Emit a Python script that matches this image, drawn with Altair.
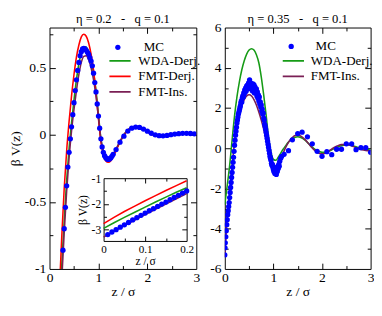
import altair as alt
import pandas as pd

FONT = "Liberation Serif"
BLUE = "#0000ff"
GREEN = "#169b16"
RED = "#ff0000"
PURPLE = "#7a1f55"

# ---------------- left panel: eta = 0.2 ----------------
L_SERIES = ["WDA-Derj.", "FMT-Derj.", "FMT-Ins."]
L_COLORS = [GREEN, RED, PURPLE]

L_LINE_Z = [0.20, 0.25, 0.30, 0.35, 0.40, 0.45, 0.50, 0.55, 0.60, 0.65,
            0.70, 0.75, 0.80, 0.85, 0.90, 0.95, 1.00, 1.05, 1.10, 1.15,
            1.20, 1.25, 1.30, 1.35, 1.40, 1.45, 1.50, 1.55, 1.60, 1.65,
            1.70, 1.75, 1.80, 1.85, 1.90, 1.95, 2.00, 2.05, 2.10, 2.15,
            2.20, 2.25, 2.30, 2.35, 2.40, 2.45, 2.50, 2.55, 2.60, 2.65,
            2.70, 2.75, 2.80, 2.85, 2.90, 2.95, 3.00]
L_WDA = [-1.30, -0.97, -0.64, -0.34, -0.10, 0.09, 0.26, 0.41, 0.53, 0.61,
         0.655, 0.655, 0.615, 0.55, 0.46, 0.33, 0.15, -0.03, -0.13, -0.175,
         -0.188, -0.18, -0.15, -0.115, -0.08, -0.045, -0.012, 0.015, 0.035, 0.05,
         0.058, 0.062, 0.062, 0.058, 0.05, 0.039, 0.027, 0.015, 0.005, -0.002,
         -0.007, -0.009, -0.009, -0.007, -0.004, 0.0, 0.004, 0.007, 0.009, 0.011,
         0.011, 0.011, 0.010, 0.009, 0.008, 0.006, 0.005]
L_FMT_D = [-1.17, -0.76, -0.40, -0.12, 0.10, 0.29, 0.45, 0.58, 0.67, 0.73,
           0.75, 0.735, 0.685, 0.60, 0.48, 0.31, 0.12, -0.05, -0.15, -0.195,
           -0.205, -0.195, -0.165, -0.125, -0.085, -0.048, -0.014, 0.014, 0.035, 0.05,
           0.058, 0.061, 0.060, 0.055, 0.046, 0.035, 0.023, 0.012, 0.002, -0.005,
           -0.009, -0.011, -0.011, -0.009, -0.006, -0.002, 0.002, 0.006, 0.009, 0.010,
           0.011, 0.011, 0.010, 0.009, 0.007, 0.006, 0.005]
L_FMT_I = [-1.45, -1.08, -0.73, -0.42, -0.17, 0.03, 0.19, 0.33, 0.45, 0.54,
           0.585, 0.59, 0.56, 0.50, 0.41, 0.29, 0.13, -0.03, -0.125, -0.17,
           -0.18, -0.172, -0.146, -0.112, -0.077, -0.043, -0.012, 0.013, 0.032, 0.046,
           0.054, 0.057, 0.057, 0.053, 0.045, 0.035, 0.024, 0.013, 0.004, -0.003,
           -0.007, -0.009, -0.009, -0.007, -0.004, 0.0, 0.004, 0.007, 0.009, 0.010,
           0.011, 0.011, 0.010, 0.009, 0.008, 0.006, 0.005]

L_MC_Z = [0.275, 0.300, 0.325, 0.350, 0.375, 0.400, 0.425, 0.450, 0.475, 0.500,
          0.525, 0.550, 0.575, 0.600, 0.625, 0.650, 0.675, 0.700, 0.725, 0.750,
          0.775, 0.800, 0.825, 0.850, 0.875, 0.900, 0.925, 0.950, 0.975, 1.000,
          1.025, 1.050, 1.075, 1.100, 1.125, 1.150, 1.175, 1.200, 1.225, 1.250,
          1.275, 1.300, 1.36, 1.44, 1.52, 1.60, 1.68, 1.76, 1.84, 1.92,
          2.00, 2.08, 2.16, 2.24, 2.32, 2.40, 2.48, 2.56, 2.64, 2.72,
          2.80, 2.88, 2.96]
L_MC_V = [-0.86, -0.70, -0.54, -0.38, -0.24, -0.13, -0.03, 0.06, 0.15, 0.24,
          0.33, 0.41, 0.48, 0.54, 0.59, 0.62, 0.64, 0.645, 0.64, 0.63,
          0.615, 0.60, 0.575, 0.55, 0.515, 0.46, 0.39, 0.32, 0.23, 0.14,
          0.05, -0.03, -0.09, -0.13, -0.155, -0.17, -0.18, -0.183, -0.18, -0.172,
          -0.16, -0.145, -0.11, -0.055, -0.01, 0.028, 0.05, 0.058, 0.055, 0.043,
          0.027, 0.012, 0.0, -0.006, -0.007, -0.004, 0.001, 0.006, 0.009, 0.011,
          0.011, 0.010, 0.008]

# inset (near-wall region)
IN_LINE_Z = [0.0, 0.025, 0.05, 0.075, 0.10, 0.125, 0.15, 0.175, 0.20]
IN_WDA = [-2.96, -2.74, -2.53, -2.33, -2.13, -1.93, -1.74, -1.55, -1.37]
IN_FMT_D = [-2.77, -2.53, -2.30, -2.09, -1.88, -1.68, -1.48, -1.29, -1.10]
IN_FMT_I = [-3.30, -3.07, -2.85, -2.63, -2.42, -2.21, -2.01, -1.80, -1.60]
IN_MC_Z = [0.01, 0.02, 0.03, 0.04, 0.05, 0.06, 0.07, 0.08, 0.09, 0.10,
           0.11, 0.12, 0.13, 0.14, 0.15, 0.16, 0.17, 0.18, 0.19, 0.20]
IN_MC_V = [-3.20, -3.10, -3.01, -2.91, -2.82, -2.73, -2.63, -2.54, -2.45, -2.36,
           -2.27, -2.19, -2.10, -2.01, -1.93, -1.84, -1.75, -1.67, -1.58, -1.50]

# ---------------- right panel: eta = 0.35 ----------------
R_SERIES = ["WDA-Derj.", "FMT-Ins."]
R_COLORS = [GREEN, PURPLE]

R_LINE_Z = [0.00, 0.05, 0.10, 0.15, 0.20, 0.25, 0.30, 0.35, 0.40, 0.45,
            0.50, 0.55, 0.60, 0.65, 0.70, 0.75, 0.80, 0.85, 0.90, 0.95,
            1.00, 1.05, 1.10, 1.15, 1.20, 1.25, 1.30, 1.35, 1.40, 1.45,
            1.50, 1.55, 1.60, 1.65, 1.70, 1.75, 1.80, 1.85, 1.90, 1.95,
            2.00, 2.05, 2.10, 2.15, 2.20, 2.25, 2.30, 2.35, 2.40, 2.45,
            2.50, 2.55, 2.60, 2.65, 2.70, 2.75, 2.80, 2.85, 2.90, 2.95, 3.00]
R_WDA = [-2.8, -1.85, -0.85, 0.4, 1.6, 2.55, 3.3, 3.9, 4.35, 4.68,
         4.88, 4.95, 4.88, 4.65, 4.25, 3.55, 2.65, 1.65, 0.55, -0.2,
         -0.55, -0.6, -0.45, -0.25, -0.05, 0.12, 0.28, 0.40, 0.50, 0.55,
         0.57, 0.55, 0.49, 0.40, 0.29, 0.17, 0.06, -0.04, -0.12, -0.17,
         -0.20, -0.20, -0.18, -0.14, -0.08, -0.02, 0.04, 0.09, 0.13, 0.15,
         0.16, 0.16, 0.14, 0.11, 0.07, 0.03, -0.01, -0.04, -0.07, -0.08, -0.09]
R_FMT_I = [-5.4, -3.4, -2.2, -0.9, 0.3, 1.25, 1.8, 2.15, 2.42, 2.6,
           2.66, 2.6, 2.42, 2.15, 1.8, 1.4, 0.95, 0.45, -0.1, -0.55,
           -0.9, -1.03, -0.85, -0.55, -0.25, 0.03, 0.26, 0.44, 0.56, 0.63,
           0.65, 0.62, 0.54, 0.43, 0.30, 0.15, 0.01, -0.11, -0.20, -0.26,
           -0.28, -0.26, -0.20, -0.12, -0.04, 0.04, 0.10, 0.15, 0.18, 0.19,
           0.19, 0.17, 0.13, 0.08, 0.03, -0.02, -0.06, -0.09, -0.11, -0.12, -0.12]

R_MC_Z = [0.00, 0.005, 0.01, 0.02, 0.03, 0.04, 0.05, 0.06, 0.07, 0.08,
          0.09, 0.10, 0.11, 0.12, 0.13, 0.14, 0.15, 0.16, 0.17, 0.18,
          0.19, 0.20, 0.21, 0.22, 0.23, 0.24, 0.25, 0.26, 0.27, 0.28,
          0.29, 0.30, 0.31, 0.32, 0.33, 0.34, 0.35, 0.36, 0.37, 0.38,
          0.39, 0.40, 0.41, 0.42, 0.43, 0.44, 0.45, 0.46, 0.47, 0.48,
          0.49, 0.50, 0.51, 0.52, 0.53, 0.54, 0.55, 0.56, 0.57, 0.58,
          0.59, 0.60, 0.61, 0.62, 0.63, 0.64, 0.65, 0.66, 0.67, 0.68,
          0.69, 0.70, 0.71, 0.72, 0.73, 0.74, 0.75, 0.76, 0.77, 0.78,
          0.79, 0.80, 0.81, 0.82, 0.83, 0.84, 0.85, 0.86, 0.87, 0.88,
          0.89, 0.90, 0.91, 0.92, 0.93, 0.94, 0.95, 0.96, 0.97, 0.98,
          0.99, 1.00, 1.01, 1.02, 1.03, 1.04, 1.05, 1.06, 1.07, 1.08,
          1.09, 1.10, 1.11, 1.12, 1.13, 1.15, 1.17, 1.22, 1.31, 1.39,
          1.50, 1.59, 1.70, 1.80, 1.90, 2.00, 2.10, 2.20, 2.30, 2.40,
          2.50, 2.61, 2.70, 2.80, 2.90, 3.00]
R_MC_V = [-5.3, -4.95, -4.7, -4.4, -4.1, -3.8, -3.55, -3.3, -3.1, -2.9,
          -2.7, -2.45, -2.2, -1.95, -1.7, -1.45, -1.2, -0.95, -0.7, -0.45,
          -0.15, 0.15, 0.4, 0.65, 0.85, 1.05, 1.25, 1.4, 1.55, 1.7,
          1.8, 1.9, 2.0, 2.1, 2.25, 2.35, 2.3, 2.5, 2.6, 2.55,
          2.75, 2.7, 2.9, 2.8, 3.0, 2.85, 3.1, 2.95, 3.15, 3.0,
          3.25, 3.05, 3.4, 3.15, 3.25, 2.95, 3.2, 3.1, 2.85, 3.2,
          3.0, 3.15, 2.75, 3.05, 2.9, 2.75, 2.95, 2.6, 2.8, 2.5,
          2.65, 2.35, 2.55, 2.2, 2.3, 2.05, 2.15, 1.85, 1.95, 1.7,
          1.75, 1.5, 1.4, 1.2, 1.1, 0.95, 0.8, 0.65, 0.5, 0.35,
          0.2, 0.05, -0.1, -0.25, -0.4, -0.5, -0.6, -0.75, -0.85, -0.8,
          -0.95, -1.05, -1.15, -0.95, -1.25, -1.1, -1.2, -1.3, -1.05, -1.15,
          -0.9, -1.0, -0.8, -0.9, -0.65, -0.5, -0.4, -0.3, -0.12, 0.42,
          0.73, 0.80, 0.57, 0.22, -0.15, -0.40, -0.17, -0.32, -0.05, -0.05,
          0.22, 0.22, -0.07, 0.03, 0.03, -0.2]

# tick positions (major / minor) for each frame
L_X_MAJOR = [1, 2]
L_X_MINOR = [0.5, 1.5, 2.5]
L_Y_MAJOR = [-0.5, 0, 0.5]
L_Y_MINOR = [-0.75, -0.25, 0.25, 0.75]
R_Y_MAJOR = [-4, -2, 0, 2, 4]
R_Y_MINOR = [-5, -3, -1, 1, 3, 5]
IN_X_MAJOR = [0.1]
IN_X_MINOR = [0.05, 0.15]
IN_Y_MAJOR = [-2, -3]
IN_Y_MINOR = [-1.5, -2.5]

LEFT_TITLE = "\u03b7 = 0.2 \u00a0 - \u00a0 q = 0.1"
RIGHT_TITLE = "\u03b7 = 0.35 \u00a0 - \u00a0 q = 0.1"
Y_TITLE = "\u03b2 V(z)"
X_TITLE = "z / \u03c3"

MINUS_EXPR = "(datum.value < 0 ? '-' : '') + format(abs(datum.value), '~g')"


def lines_df(zs, named):
    rows = []
    for name, vals in named:
        for z, v in zip(zs, vals):
            rows.append({"x": z, "y": v, "series": name})
    return pd.DataFrame(rows)


def pts_df(zs, vs):
    return pd.DataFrame({"x": zs, "y": vs, "series": ["MC"] * len(zs)})


def sc(dom, rng=None):
    if rng is None:
        return alt.Scale(domain=dom, nice=False, zero=False)
    return alt.Scale(domain=dom, range=rng, nice=False, zero=False)


def tick_layers(df, xdom, ydom, xmaj, xmin, ymaj, ymin, W, H, box, major, minor,
                xr=None, yr=None):
    """Inward ticks on all four edges of a frame, drawn by axes moved with offsets."""
    x0, x1, y0, y1 = box
    common = dict(labels=False, title=None, grid=False, ticks=True, minExtent=0,
                  tickColor="black", tickWidth=1, domainColor="black", domainWidth=1)
    base = alt.Chart(df).mark_point(opacity=0, clip=True)
    out = []
    for xv, yv, size, dom in ((xmaj, ymaj, major, True), (xmin, ymin, minor, False)):
        out.append(base.encode(
            x=alt.X("x:Q", scale=sc(xdom, xr), axis=alt.Axis(
                orient="top", offset=-y1, values=xv, domain=False, tickSize=size, **common)),
            y=alt.Y("y:Q", scale=sc(ydom, yr), axis=alt.Axis(
                orient="right", offset=-(W - x0), values=yv, domain=False, tickSize=size,
                **common)),
        ))
        out.append(base.encode(
            x=alt.X("x:Q", scale=sc(xdom, xr), axis=alt.Axis(
                orient="bottom", offset=-(H - y0), values=xv, domain=dom, tickSize=size,
                **common)),
            y=alt.Y("y:Q", scale=sc(ydom, yr), axis=alt.Axis(
                orient="left", offset=-x1, values=yv, domain=dom, tickSize=size, **common)),
        ))
    return out


def label_axes(xdom, ydom, xlabels, ylabels, W, H, box, lsize, tsize, xr=None, yr=None,
               ytitle_pad=2, xtitle_pad=0, ylabel_pad=4, xlabel_pad=2, ytitle=Y_TITLE,
               xlsize=None):
    x0, x1, y0, y1 = box
    ax = alt.Axis(orient="bottom", offset=-(H - y1), values=xlabels, ticks=False,
                  tickSize=0, domain=True, domainColor="black", grid=False, minExtent=0,
                  labelExpr=MINUS_EXPR, labelFlush=False, labelOverlap=False,
                  labelFont=FONT, labelFontSize=xlsize or lsize, labelPadding=xlabel_pad,
                  labelColor="black",
                  title=X_TITLE, titleFont=FONT, titleFontSize=tsize,
                  titleFontWeight="normal", titlePadding=xtitle_pad, titleColor="black")
    ykw = dict(orient="left", offset=-x0, values=ylabels, ticks=False,
               tickSize=0, domain=True, domainColor="black", grid=False, minExtent=0,
               labelExpr=MINUS_EXPR, labelFlush=False, labelOverlap=False,
               labelFont=FONT, labelFontSize=lsize, labelPadding=ylabel_pad,
               labelColor="black")
    if ytitle is None:
        ay = alt.Axis(title=None, **ykw)
    else:
        ay = alt.Axis(title=ytitle, titleFont=FONT, titleFontSize=tsize,
                      titleFontWeight="normal", titlePadding=ytitle_pad,
                      titleColor="black", **ykw)
    return (alt.X("x:Q", scale=sc(xdom, xr), axis=ax),
            alt.Y("y:Q", scale=sc(ydom, yr), axis=ay))


def color_legend(lx, ly, off):
    return alt.Legend(orient="none", legendX=lx, legendY=ly, title=None,
                      symbolType="stroke", symbolSize=484, symbolStrokeWidth=1.8,
                      clipHeight=13, labelFont=FONT, labelFontSize=13.5,
                      labelColor="black", labelOffset=off, rowPadding=2, padding=0)


def shape_legend(lx, ly, off):
    return alt.Legend(orient="none", legendX=lx, legendY=ly, title=None,
                      symbolType="circle", symbolSize=30, symbolFillColor=BLUE,
                      symbolStrokeColor=BLUE, symbolStrokeWidth=0, clipHeight=13,
                      labelFont=FONT, labelFontSize=13.5, labelColor="black",
                      labelOffset=off, padding=0)


def panel(W, H, xdom, ydom, xlabels, ylabels, ticks, ldf, mdf, series, colors,
          title, toff, cleg, sleg, extra=None, ytitle=Y_TITLE):
    box = (0, W, 0, H)
    X, Y = label_axes(xdom, ydom, xlabels, ylabels, W, H, box, 14, 14, ytitle=ytitle)
    color = alt.Color("series:N", scale=alt.Scale(domain=series, range=colors),
                      legend=color_legend(*cleg))
    lines = alt.Chart(ldf).mark_line(strokeWidth=1.6, clip=True, interpolate="monotone").encode(
        x=X, y=Y, color=color, detail="series:N")
    pts = alt.Chart(mdf).mark_point(filled=True, size=30, color=BLUE, opacity=1, clip=True).encode(
        x=alt.X("x:Q", scale=sc(xdom), axis=None),
        y=alt.Y("y:Q", scale=sc(ydom), axis=None),
        shape=alt.Shape("series:N", scale=alt.Scale(domain=["MC"], range=["circle"]),
                        legend=shape_legend(*sleg)))
    layers = [lines, pts] + tick_layers(mdf, xdom, ydom, *ticks, W, H, box, 6, 3.5)
    if extra is not None:
        layers += extra(color)
    return alt.layer(*layers).resolve_scale(x="independent", y="independent").properties(
        width=W, height=H,
        title=alt.TitleParams(title, font=FONT, fontSize=13, fontWeight="normal",
                              anchor="middle", offset=toff, color="black"))


# left panel
LW, LH = 152, 250
left_lines = lines_df(L_LINE_Z, list(zip(L_SERIES, [L_WDA, L_FMT_D, L_FMT_I])))
left_mc = pts_df(L_MC_Z, L_MC_V)
in_lines = lines_df(IN_LINE_Z, list(zip(L_SERIES, [IN_WDA, IN_FMT_D, IN_FMT_I])))
in_mc = pts_df(IN_MC_Z, IN_MC_V)

IN_BOX = (56, 142, 156, 221)
IN_XR = [56, 142]
IN_YR = [221, 156]
IN_XDOM = [0, 0.2]
IN_YDOM = [-3.45, -1]


def inset_layers(color):
    X, Y = label_axes(IN_XDOM, IN_YDOM, [0, 0.1, 0.2], [-1, -2, -3], LW, LH, IN_BOX,
                      12, 12, xr=IN_XR, yr=IN_YR, ytitle_pad=2, xtitle_pad=1,
                      ylabel_pad=3, xlabel_pad=3, xlsize=11.5)
    il = alt.Chart(in_lines).mark_line(strokeWidth=1.6, clip=True).encode(
        x=X, y=Y, color=color, detail="series:N")
    ip = alt.Chart(in_mc).mark_point(filled=True, size=30, color=BLUE, opacity=1).encode(
        x=alt.X("x:Q", scale=sc(IN_XDOM, IN_XR), axis=None),
        y=alt.Y("y:Q", scale=sc(IN_YDOM, IN_YR), axis=None))
    return [il, ip] + tick_layers(in_mc, IN_XDOM, IN_YDOM, IN_X_MAJOR, IN_X_MINOR,
                                  IN_Y_MAJOR, IN_Y_MINOR, LW, LH, IN_BOX, 5, 3,
                                  xr=IN_XR, yr=IN_YR)


left = panel(LW, LH, [0, 3], [-1, 0.8], [0, 1, 2, 3], [-1, -0.5, 0, 0.5],
             (L_X_MAJOR, L_X_MINOR, L_Y_MAJOR, L_Y_MINOR),
             left_lines, left_mc, L_SERIES, L_COLORS, LEFT_TITLE, 1,
             (61, 28, 7), (64, 14, 20), extra=inset_layers)

# right panel
RW, RH = 151, 250
right_lines = lines_df(R_LINE_Z, list(zip(R_SERIES, [R_WDA, R_FMT_I])))
right_mc = pts_df(R_MC_Z, R_MC_V)
right = panel(RW, RH, [0, 3], [-6, 6], [0, 1, 2, 3], [-6, -4, -2, 0, 2, 4, 6],
              (L_X_MAJOR, L_X_MINOR, R_Y_MAJOR, R_Y_MINOR),
              right_lines, right_mc, R_SERIES, R_COLORS, RIGHT_TITLE, -5.5,
              (59, 28, 6), (62, 13, 18.5), ytitle=None)

chart = alt.hconcat(left, right, spacing=8.5).resolve_scale(
    color="independent", shape="independent").properties(
    padding={"left": 0, "top": 0, "right": 0, "bottom": 0},
    background="white").configure(font=FONT).configure_view(stroke=None)

chart.save("out.html", embed_options={"renderer": "svg", "actions": False})
